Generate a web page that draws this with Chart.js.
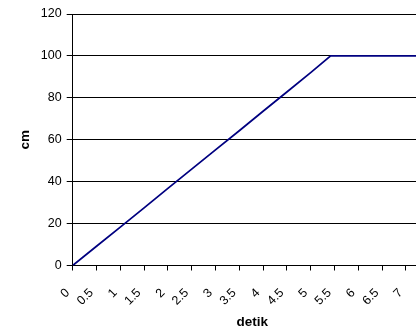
<!DOCTYPE html>
<html>
<head>
<meta charset="utf-8">
<script src="https://cdn.jsdelivr.net/npm/chart.js@4/dist/chart.umd.min.js"></script>
<style>
  html, body { margin: 0; padding: 0; background: #fff; overflow: hidden; }
  #c { display: block; }
</style>
</head>
<body>
<canvas id="c" width="432" height="332"></canvas>
<script>
// time (detik) and distance (cm)
const times = [0, 0.5, 1, 1.5, 2, 2.5, 3, 3.5, 4, 4.5, 5, 5.42, 5.5, 6, 6.5, 7, 7.5];
const distances = [0, 9.2, 18.3, 27.5, 36.8, 46.0, 55.2, 64.3, 73.6, 82.8, 92.0, 100, 100, 100, 100, 100, 100];

const xTicks = [0, 0.5, 1, 1.5, 2, 2.5, 3, 3.5, 4, 4.5, 5, 5.5, 6, 6.5, 7];
const yTicks = [0, 20, 40, 60, 80, 100, 120];
const xAxisTitle = 'detik';
const yAxisTitle = 'cm';

const points = times.map((t, i) => ({ x: t, y: distances[i] }));

const labelFont = { family: 'Liberation Sans, Arial, sans-serif', size: 12.5 };
const titleFont = { family: 'Liberation Sans, Arial, sans-serif', size: 13.5, weight: 'bold' };

new Chart(document.getElementById('c'), {
  type: 'line',
  data: {
    datasets: [{
      data: points,
      borderColor: '#000080',
      borderWidth: 1.75,
      pointRadius: 0,
      tension: 0,
      fill: false
    }]
  },
  options: {
    responsive: false,
    animation: false,
    layout: { padding: { top: 14, right: 0, left: 0, bottom: 0 } },
    plugins: { legend: { display: false }, tooltip: { enabled: false } },
    scales: {
      x: {
        type: 'linear',
        min: 0,
        max: 7.55,
        afterFit: s => { s.height = 66.5; },
        afterBuildTicks: s => { s.ticks = xTicks.map(v => ({ value: v })); },
        border: { color: '#000', width: 1 },
        grid: { drawOnChartArea: false, drawTicks: true, tickLength: 5, color: '#000' },
        ticks: {
          minRotation: 45,
          maxRotation: 45,
          autoSkip: false,
          color: '#000',
          font: labelFont,
          padding: 15,
          labelOffset: -5,
          callback: v => String(v)
        },
        title: { display: true, text: xAxisTitle, color: '#000', font: titleFont, padding: { top: 0, bottom: 2 } }
      },
      y: {
        min: yTicks[0],
        max: yTicks[yTicks.length - 1],
        afterFit: s => { s.width = 72.7; },
        afterBuildTicks: s => { s.ticks = yTicks.map(v => ({ value: v })); },
        border: { color: '#000', width: 1 },
        grid: { color: '#000', tickLength: 6, drawTicks: true },
        ticks: { color: '#000', font: labelFont, padding: 5 },
        title: { display: true, text: yAxisTitle, color: '#000', font: titleFont, padding: { top: 17, bottom: 0 } }
      }
    }
  }
});
</script>
</body>
</html>
